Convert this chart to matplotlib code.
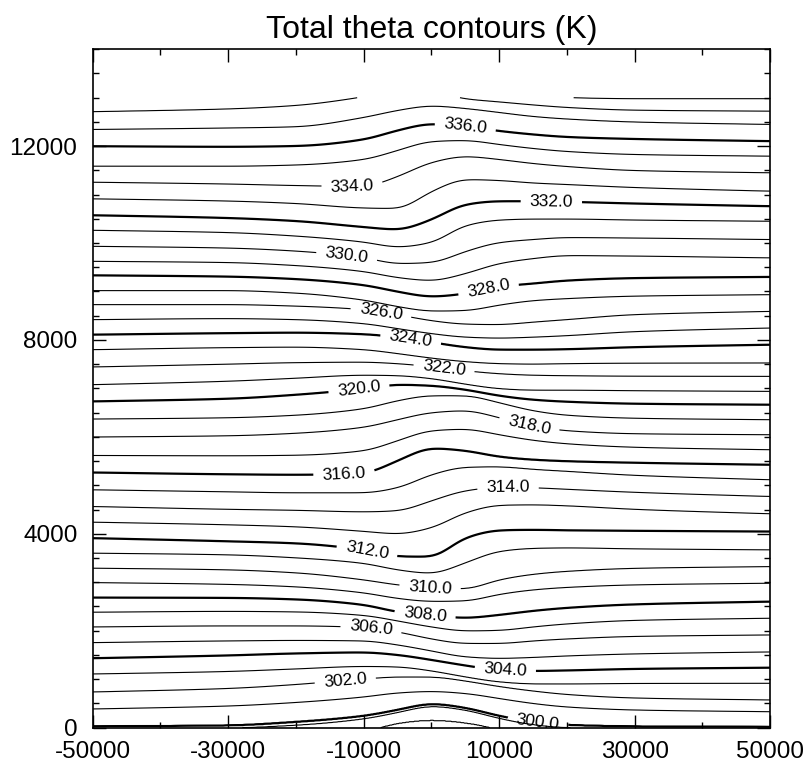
import numpy as np
import matplotlib
matplotlib.use("Agg")
import matplotlib.pyplot as plt
from matplotlib.ticker import MultipleLocator, FixedLocator

plt.rcParams['font.family'] = ['Liberation Sans', 'DejaVu Sans']
plt.rcParams['axes.unicode_minus'] = False

x_cols = [-50000, -30000, -20000, -10000, -5000, 0, 5000, 10000, 15000, 20000, 30000, 50000]

# heights (m) of each theta surface at x_cols, one row per level
theta_low = [298, 299, 300, 301, 302, 303, 304, 305, 306, 307, 308, 309]
z_low = [
    [-300, -300, -250, -90, 90, 155, 100, -40, -200, -300, -300, -300],
    [-10, -5, 50, 180, 310, 440, 360, 190, 60, 0, -10, -10],
    [21, 41, 114, 238, 362, 486, 403, 238, 114, 52, 21, 10],
    [382, 444, 517, 630, 713, 744, 702, 599, 496, 424, 362, 326],
    [733, 806, 888, 1002, 1043, 1043, 961, 847, 754, 682, 609, 568],
    [1105, 1157, 1209, 1260, 1250, 1167, 1043, 940, 899, 899, 909, 913],
    [1430, 1488, 1529, 1550, 1498, 1395, 1281, 1188, 1167, 1178, 1209, 1235],
    [1752, 1787, 1797, 1787, 1704, 1580, 1457, 1426, 1446, 1477, 1519, 1560],
    [2076, 2097, 2097, 2066, 1973, 1828, 1735, 1735, 1787, 1828, 1880, 1911],
    [2380, 2397, 2386, 2314, 2200, 2076, 1994, 2004, 2076, 2138, 2211, 2256],
    [2682, 2675, 2644, 2531, 2386, 2314, 2262, 2324, 2407, 2469, 2541, 2599],
    [2992, 2954, 2903, 2779, 2665, 2603, 2613, 2748, 2841, 2892, 2944, 2979],
]

theta_mid = [310, 311, 312, 313, 314, 315, 316, 317, 318, 319, 320, 321, 322, 323]
z_mid = [
    [3289, 3254, 3192, 3047, 2944, 2882, 2861, 3047, 3161, 3223, 3285, 3322],
    [3599, 3564, 3502, 3388, 3254, 3182, 3399, 3636, 3698, 3708, 3688, 3667],
    [3909, 3843, 3801, 3667, 3533, 3523, 3915, 4070, 4080, 4070, 4060, 4045],
    [4239, 4184, 4142, 4049, 3998, 4122, 4432, 4587, 4597, 4576, 4504, 4411],
    [4562, 4504, 4483, 4452, 4473, 4679, 4886, 4958, 4948, 4917, 4855, 4768],
    [4907, 4865, 4845, 4845, 4948, 5217, 5372, 5382, 5330, 5289, 5206, 5113],
    [5264, 5227, 5217, 5248, 5506, 5764, 5712, 5589, 5527, 5496, 5465, 5423],
    [5615, 5609, 5620, 5712, 5919, 6126, 6157, 6043, 5929, 5857, 5785, 5733],
    [5996, 6022, 6074, 6198, 6353, 6498, 6539, 6394, 6219, 6126, 6064, 6043],
    [6367, 6394, 6446, 6580, 6745, 6849, 6849, 6704, 6539, 6446, 6384, 6353],
    [6731, 6787, 6869, 6993, 7076, 7055, 6973, 6849, 6766, 6725, 6684, 6663],
    [7076, 7148, 7210, 7272, 7262, 7200, 7086, 6993, 6962, 6962, 6952, 6938],
    [7442, 7500, 7531, 7541, 7510, 7448, 7365, 7303, 7272, 7262, 7252, 7248],
    [7799, 7841, 7851, 7799, 7717, 7624, 7551, 7510, 7500, 7510, 7520, 7524],
]

theta_high = [324, 325, 326, 327, 328, 329, 330, 331, 332, 333, 334, 335, 336, 337, 338, 339]
z_high = [
    [8109, 8140, 8150, 8119, 8057, 7954, 7851, 7799, 7799, 7809, 7851, 7902],
    [8419, 8440, 8419, 8336, 8233, 8130, 8057, 8037, 8057, 8088, 8171, 8247],
    [8729, 8729, 8698, 8626, 8522, 8398, 8326, 8316, 8367, 8419, 8522, 8590],
    [9018, 9018, 8966, 8822, 8688, 8595, 8605, 8719, 8811, 8853, 8904, 8935],
    [9334, 9307, 9256, 9132, 8997, 8894, 8956, 9101, 9163, 9225, 9276, 9301],
    [9623, 9597, 9535, 9411, 9287, 9225, 9369, 9576, 9679, 9741, 9731, 9694],
    [9933, 9896, 9834, 9700, 9576, 9597, 9824, 10010, 10072, 10113, 10103, 10072],
    [10264, 10216, 10144, 10020, 9917, 10010, 10361, 10475, 10495, 10495, 10475, 10450],
    [10574, 10516, 10454, 10330, 10278, 10485, 10795, 10863, 10863, 10851, 10816, 10760],
    [10913, 10867, 10816, 10723, 10712, 11063, 11311, 11291, 11239, 11208, 11146, 11070],
    [11256, 11218, 11187, 11167, 11373, 11663, 11787, 11725, 11642, 11580, 11497, 11450],
    [11586, 11586, 11611, 11725, 11911, 12096, 12117, 12034, 11952, 11890, 11828, 11793],
    [11999, 11987, 12003, 12138, 12324, 12458, 12406, 12313, 12241, 12189, 12148, 12103],
    [12344, 12375, 12400, 12592, 12737, 12830, 12778, 12696, 12613, 12561, 12499, 12448],
    [12710, 12768, 12840, 13020, 13150, 13120, 12975, 12913, 12851, 12799, 12743, 12722],
    [13300, 13300, 13300, 13300, 13300, 13300, 13300, 13200, 13100, 13003, 12980, 12980],
]

# labels: where each labelled contour carries its value (x, z)
label_pos = [(15700, 110), (-12700, 940), (10900, 1190), (-8900, 2060), (-900, 2390),
             (-200, 2900), (-9500, 3650), (11300, 4970), (-12900, 5240), (14400, 6230),
             (-10700, 6990), (1900, 7450), (-3000, 8050), (-7400, 8600), (8500, 9000),
             (-12500, 9740), (17700, 10880), (-11700, 11150), (5000, 12400)]

MODEL_TOP = 13000


def pchip(xk, yk, xq):
    # monotone cubic (Fritsch-Carlson) so the read heights are joined smoothly
    xk = np.asarray(xk, float)
    yk = np.asarray(yk, float)
    h = np.diff(xk)
    d = np.diff(yk) / h
    m = np.zeros_like(yk)
    m[0], m[-1] = d[0], d[-1]
    for k in range(1, len(xk) - 1):
        if d[k - 1] * d[k] > 0:
            w1 = 2 * h[k] + h[k - 1]
            w2 = h[k] + 2 * h[k - 1]
            m[k] = (w1 + w2) / (w1 / d[k - 1] + w2 / d[k])
    i = np.clip(np.searchsorted(xk, xq) - 1, 0, len(xk) - 2)
    t = (xq - xk[i]) / h[i]
    h00 = 2 * t**3 - 3 * t**2 + 1
    h10 = t**3 - 2 * t**2 + t
    h01 = -2 * t**3 + 3 * t**2
    h11 = t**3 - t**2
    return h00 * yk[i] + h10 * h[i] * m[i] + h01 * yk[i + 1] + h11 * h[i] * m[i + 1]


def smooth(row, sigma_pts=10):
    # gentle gaussian smoothing along x to round off the joins
    n = 3 * sigma_pts
    k = np.exp(-0.5 * (np.arange(-n, n + 1) / sigma_pts) ** 2)
    k /= k.sum()
    return np.convolve(np.pad(row, n, mode='edge'), k, mode='valid')


levels = np.array(theta_low + theta_mid + theta_high, float)
heights = np.array(z_low + z_mid + z_high, float)

xf = np.linspace(-50000, 50000, 801)
zf = np.linspace(0, MODEL_TOP, 1301)

hf = np.array([smooth(pchip(x_cols, row, xf)) for row in heights])
hf = np.maximum.accumulate(hf + np.arange(len(levels))[:, None] * 1e-3, axis=0)

theta = np.empty((len(zf), len(xf)))
for j in range(len(xf)):
    col = np.interp(zf, hf[:, j], levels)
    col += np.clip(zf - hf[-1, j], 0, None) / 300.0
    theta[:, j] = col

fig = plt.figure(figsize=(8.1, 7.65), dpi=100)
ax = fig.add_axes([0.1144, 0.049, 0.8365, 0.8866])

odd_levels = [lev for lev in levels if int(lev) % 2 == 1]
even_levels = [lev for lev in levels if int(lev) % 2 == 0]
even_lw = [1.6 if int(lev) % 4 == 0 else 0.8 for lev in even_levels]

ax.contour(xf, zf, theta, levels=odd_levels, colors='black', linewidths=0.8)
cs = ax.contour(xf, zf, theta, levels=even_levels, colors='black', linewidths=even_lw)
texts = ax.clabel(cs, manual=label_pos, fmt='%.1f',
                  fontsize=12.5, inline=True, inline_spacing=9)
for t in texts:
    t.set_clip_on(True)

ax.set_xlim(-50000, 50000)
ax.set_ylim(0, 14000)

ax.xaxis.set_major_locator(FixedLocator([-50000, -30000, -10000, 10000, 30000, 50000]))
ax.xaxis.set_minor_locator(FixedLocator([-40000, -20000, 0, 20000, 40000]))
ax.yaxis.set_major_locator(MultipleLocator(4000))
ax.yaxis.set_minor_locator(MultipleLocator(500))

ax.tick_params(which='both', direction='in', top=True, right=True, width=1.0, labelsize=17.5)
ax.tick_params(which='major', length=9.5)
ax.tick_params(which='minor', length=4.5)
ax.tick_params(axis='x', pad=10)
ax.tick_params(axis='y', pad=11)

for sp in ax.spines.values():
    sp.set_linewidth(1.2)

ax.set_title("Total theta contours (K)", fontsize=23, pad=8)

fig.savefig("out.png", dpi=100)
